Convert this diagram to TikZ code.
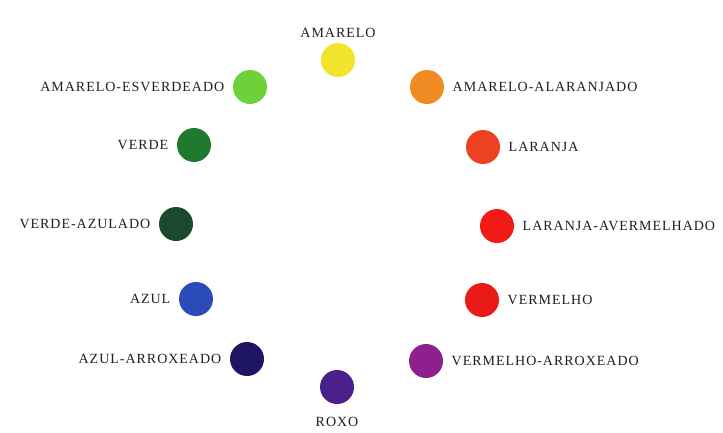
\documentclass[tikz,border=0pt]{standalone}
\usepackage{fontspec}
\setmainfont{Liberation Serif}[LetterSpace=7]
\usepackage{tikz}

\definecolor{amarelo}{HTML}{F2E32C}
\definecolor{amareloesv}{HTML}{6DD13A}
\definecolor{amareloalar}{HTML}{F08A22}
\definecolor{verde}{HTML}{1F7A30}
\definecolor{laranja}{HTML}{EC4222}
\definecolor{verdeaz}{HTML}{1B4A2F}
\definecolor{laranjaaverm}{HTML}{F11A16}
\definecolor{azul}{HTML}{2A4BB8}
\definecolor{vermelho}{HTML}{E91A18}
\definecolor{azularrox}{HTML}{1F1663}
\definecolor{vermelhoarrox}{HTML}{8E208E}
\definecolor{roxo}{HTML}{4B1F8C}
\definecolor{texto}{HTML}{1E1E1E}

\begin{document}
\begin{tikzpicture}[x=1pt,y=-1pt,
        dot/.style={circle,fill=#1,minimum size=34pt,inner sep=0pt},
        every label/.style={text=texto,font=\fontsize{14}{16}\selectfont},
        label distance=5pt]
    \useasboundingbox (0,0) rectangle (723,432);

    % Top
    \node[dot=amarelo,label={[label distance=2pt]above:AMARELO}] (amarelo) at (338,60) {};

    % Left side
    \node[dot=amareloesv,label={left:AMARELO-ESVERDEADO}] (amareloesv) at (250,87) {};
    \node[dot=verde,label={left:VERDE}] (verde) at (194,145) {};
    \node[dot=verdeaz,label={left:VERDE-AZULADO}] (verdeaz) at (176,224) {};
    \node[dot=azul,label={left:AZUL}] (azul) at (196,299) {};
    \node[dot=azularrox,label={left:AZUL-ARROXEADO}] (azularrox) at (247,359) {};

    % Right side
    \node[dot=amareloalar,label={right:AMARELO-ALARANJADO}] (amareloalar) at (427,87) {};
    \node[dot=laranja,label={right:LARANJA}] (laranja) at (483,147) {};
    \node[dot=laranjaaverm,label={right:LARANJA-AVERMELHADO}] (laranjaaverm) at (497,226) {};
    \node[dot=vermelho,label={right:VERMELHO}] (vermelho) at (482,300) {};
    \node[dot=vermelhoarrox,label={right:VERMELHO-ARROXEADO}] (vermelhoarrox) at (426,361) {};

    % Bottom
    \node[dot=roxo,label={[label distance=9pt]below:ROXO}] (roxo) at (337,387) {};
\end{tikzpicture}
\end{document}
